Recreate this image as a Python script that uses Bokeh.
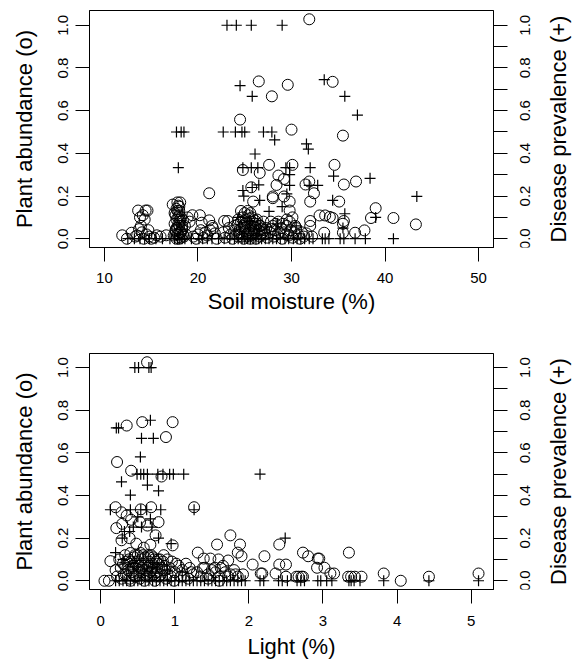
import math
from bokeh.plotting import figure
from bokeh.models import Range1d, LinearAxis, FixedTicker, PrintfTickFormatter
from bokeh.core.properties import value
from bokeh.layouts import column, row
from bokeh.embed import file_html
from bokeh.resources import INLINE

# ---------------- data: top panel (soil moisture) ----------------
soil_abund_x = [
    31.9, 26.5, 29.6, 34.4, 27.9, 24.5, 30.0, 35.5, 27.6, 30.1, 34.6, 24.8, 26.6, 28.6, 29.2,
    36.9, 35.6, 31.9, 31.5, 28.4, 25.7, 21.2, 32.4, 28.0, 29.2, 28.0, 25.9, 29.8, 32.0, 35.1,
    39.0, 29.8, 30.1, 40.9, 38.5, 33.0, 33.6, 34.1, 34.4, 35.6, 35.5, 32.0, 32.0, 43.3, 37.8,
    36.8, 35.5, 33.5, 29.5, 30.5,
    11.9, 12.4, 12.9, 13.3, 13.6, 14.4, 14.6, 13.8, 14.1, 14.3, 13.9, 14.0, 14.5, 13.5, 14.8,
    15.3, 15.6, 16.0, 16.6, 14.2, 15.0, 13.7, 14.7,
    17.3, 17.8, 18.1, 17.9, 18.0, 17.6, 18.2, 17.7, 18.4, 17.5, 18.0, 17.8, 18.3, 17.6, 18.1,
    17.9, 17.4, 18.5, 18.2, 17.7, 18.0, 18.7, 18.9, 19.1, 18.6,
    17.5, 17.7, 17.9, 18.1, 18.3, 17.6, 17.8, 18.0, 18.2, 17.9, 18.4, 17.7, 18.1, 17.8, 18.0,
    19.4, 20.2, 20.4, 21.2, 21.5, 21.3, 20.8, 20.0, 19.5, 20.6, 21.0, 21.8, 22.0, 21.6, 20.3, 19.8,
    22.8, 23.2, 22.7, 23.5, 23.9, 24.3, 24.6, 24.8, 25.0, 25.3, 25.5, 25.8, 26.1, 26.4, 26.7,
    27.0, 27.3, 24.0, 24.4, 24.7, 25.1, 25.4, 25.7, 26.0, 26.3, 26.6, 26.9, 27.2, 23.7, 24.9,
    25.6, 26.2, 27.4, 24.2, 25.9, 25.2, 26.8, 24.5, 23.3, 22.9,
    24.1, 24.4, 24.7, 25.0, 25.2, 25.5, 25.7, 26.0, 26.2, 26.5, 26.8, 25.1, 25.4, 25.8, 26.1,
    24.6, 24.9, 25.3, 25.6, 25.9, 26.3, 26.6, 24.3, 27.1, 25.0,
    27.7, 28.0, 28.3, 28.6, 28.9, 29.2, 29.5, 29.9, 30.3, 30.7, 31.1, 31.6, 28.1, 28.5, 29.0,
    29.7, 30.1, 30.9, 32.2, 27.9,
    28.2, 28.7, 29.1, 29.4, 29.8, 30.4, 31.3, 27.8,
]
soil_abund_y = [
    1.028, 0.737, 0.721, 0.735, 0.667, 0.558, 0.511, 0.483, 0.346, 0.346, 0.346, 0.322, 0.308, 0.296, 0.280,
    0.268, 0.254, 0.268, 0.254, 0.252, 0.241, 0.213, 0.213, 0.198, 0.198, 0.190, 0.174, 0.174, 0.174, 0.174,
    0.143, 0.132, 0.100, 0.097, 0.097, 0.109, 0.109, 0.102, 0.097, 0.083, 0.070, 0.083, 0.060, 0.067, 0.039,
    0.028, 0.028, 0.028, 0.090, 0.050,
    0.016, 0.000, 0.028, 0.010, 0.132, 0.132, 0.132, 0.100, 0.110, 0.090, 0.060, 0.030, 0.020, 0.015, 0.010,
    0.005, 0.016, 0.010, 0.016, 0.000, 0.000, 0.045, 0.040,
    0.160, 0.170, 0.170, 0.155, 0.130, 0.110, 0.100, 0.090, 0.085, 0.070, 0.060, 0.050, 0.045, 0.035, 0.030,
    0.020, 0.015, 0.010, 0.005, 0.000, 0.000, 0.020, 0.100, 0.080, 0.060,
    0.120, 0.140, 0.100, 0.080, 0.060, 0.040, 0.020, 0.110, 0.030, 0.070, 0.020, 0.050, 0.090, 0.130, 0.150,
    0.110, 0.110, 0.075, 0.086, 0.060, 0.040, 0.030, 0.020, 0.010, 0.005, 0.015, 0.025, 0.000, 0.050, 0.040, 0.000,
    0.083, 0.083, 0.030, 0.020, 0.060, 0.090, 0.130, 0.100, 0.120, 0.130, 0.095, 0.080, 0.085, 0.070, 0.060,
    0.080, 0.050, 0.040, 0.020, 0.010, 0.050, 0.030, 0.015, 0.040, 0.020, 0.010, 0.030, 0.020, 0.000, 0.000,
    0.000, 0.000, 0.005, 0.065, 0.060, 0.075, 0.045, 0.045, 0.050, 0.005,
    0.020, 0.030, 0.050, 0.070, 0.020, 0.040, 0.060, 0.030, 0.050, 0.040, 0.020, 0.090, 0.110, 0.100, 0.070,
    0.080, 0.060, 0.010, 0.120, 0.020, 0.090, 0.060, 0.010, 0.040, 0.035,
    0.030, 0.060, 0.070, 0.080, 0.050, 0.030, 0.060, 0.040, 0.030, 0.020, 0.030, 0.025, 0.010, 0.020, 0.000,
    0.015, 0.005, 0.000, 0.010, 0.045,
    0.040, 0.030, 0.070, 0.020, 0.080, 0.060, 0.010, 0.080,
]
soil_prev_x = [
    23.1, 24.1, 25.7, 29.0, 24.5, 25.8, 33.5, 35.7, 37.05,
    17.7, 18.2, 18.5, 22.7, 24.0, 24.7, 25.0, 27.0, 27.9,
    28.2, 31.6, 31.8, 26.1,
    17.9, 24.8, 25.7, 26.4, 29.4, 29.8, 32.0,
    34.5, 38.4, 29.8, 26.5, 29.8, 32.8, 31.9, 25.8,
    24.8, 24.9, 29.5, 43.4, 26.6, 34.4, 29.0,
    27.6, 35.7, 39.0, 24.3, 25.5, 28.5, 30.5, 35.5,
    12.5, 13.2, 13.8, 14.3, 14.8, 15.5, 16.2, 17.0, 17.5, 17.8, 18.0, 18.3, 18.6, 19.3,
    20.1, 20.5, 21.0, 21.5, 22.2, 22.8, 23.4, 23.9, 24.3, 24.7, 25.0, 25.3, 25.6, 25.9,
    26.2, 26.5, 26.8, 27.2, 27.6, 28.0, 28.4, 28.8, 29.3, 29.7, 30.2, 30.6, 31.0, 31.4,
    31.9, 32.3, 33.3, 33.6, 34.0, 35.2, 35.6, 36.8, 37.9, 40.9,
]
soil_prev_y = [
    1.0, 1.0, 1.0, 1.0, 0.717, 0.667, 0.745, 0.667, 0.579,
    0.5, 0.5, 0.5, 0.5, 0.5, 0.5, 0.5, 0.5, 0.5,
    0.463, 0.444, 0.42, 0.397,
    0.333, 0.333, 0.333, 0.333, 0.333, 0.333, 0.333,
    0.293, 0.283, 0.3, 0.252, 0.25, 0.25, 0.25, 0.24,
    0.226, 0.2, 0.21, 0.198, 0.18, 0.18, 0.15,
    0.128, 0.117, 0.1, 0.1, 0.08, 0.07, 0.06, 0.05,
    0.0, 0.0, 0.0, 0.0, 0.0, 0.0, 0.0, 0.0, 0.0, 0.0, 0.0, 0.0, 0.0, 0.0,
    0.0, 0.0, 0.0, 0.0, 0.0, 0.0, 0.0, 0.0, 0.0, 0.0, 0.0, 0.0, 0.0, 0.0,
    0.0, 0.0, 0.0, 0.0, 0.0, 0.0, 0.0, 0.0, 0.0, 0.0, 0.0, 0.0, 0.0, 0.0,
    0.0, 0.0, 0.0, 0.0, 0.0, 0.0, 0.0, 0.0, 0.0, 0.0,
]

# ---------------- data: bottom panel (light) ----------------
light_abund_x = [
    0.625, 0.35, 0.56, 0.97, 0.88, 0.22, 0.41, 0.82, 0.20, 0.54, 0.68, 1.26, 0.28, 0.35, 0.41,
    0.53, 0.78, 0.29, 0.21, 0.63, 0.74, 1.75, 0.39, 0.28, 0.48, 0.67, 0.97, 1.57, 1.88, 2.41,
    0.58, 1.31, 1.85, 2.73, 3.35, 1.90, 2.21, 2.80, 2.93, 2.95, 0.13, 1.39, 1.48, 1.59, 1.72,
    2.05, 2.41, 2.50, 2.92, 3.02, 1.40, 1.54, 2.16, 2.18, 2.36, 3.10, 3.15, 3.82, 5.10, 2.50,
    2.64, 2.67, 2.71, 2.73, 3.34, 3.38, 3.43, 3.52, 4.43, 0.05, 0.11, 4.05,
    0.20, 0.25, 0.30, 0.33, 0.36, 0.38, 0.40, 0.42, 0.45, 0.47, 0.50, 0.52, 0.55, 0.57, 0.60,
    0.62, 0.65, 0.68, 0.70, 0.72, 0.75, 0.78, 0.80, 0.83, 0.86, 0.90, 0.93, 0.96, 1.00, 1.05,
    1.10, 1.15, 1.20, 1.25, 0.22, 0.28, 0.34, 0.40, 0.46, 0.53, 0.59, 0.66, 0.73, 0.79, 0.88,
    0.99, 1.08, 1.18, 1.30, 1.35, 1.45, 1.50, 1.60, 1.65, 1.68, 1.75, 1.80, 1.85, 1.92, 1.60,
    1.45, 0.44, 0.50, 0.56, 0.63, 0.69, 0.76, 0.43, 0.60, 0.90, 0.35, 0.65,
    0.31, 0.37, 0.41, 0.48, 0.51, 0.54, 0.58, 0.61, 0.64, 0.67, 0.71, 0.74, 0.77, 0.81, 0.84,
    0.87, 0.39, 0.46, 0.52, 0.57, 0.62, 0.69, 0.75, 0.82, 0.27, 0.33, 0.44, 0.55, 0.66, 0.72,
    1.02, 1.12, 1.22, 1.38, 1.55, 1.72, 1.62, 1.82, 0.95, 0.85,
]
light_abund_y = [
    1.025, 0.728, 0.744, 0.744, 0.674, 0.557, 0.516, 0.489, 0.345, 0.335, 0.345, 0.345, 0.321, 0.306, 0.286,
    0.275, 0.275, 0.267, 0.247, 0.259, 0.213, 0.213, 0.200, 0.190, 0.174, 0.169, 0.166, 0.170, 0.170, 0.170,
    0.155, 0.132, 0.132, 0.132, 0.132, 0.115, 0.115, 0.115, 0.104, 0.104, 0.092, 0.104, 0.104, 0.100, 0.095,
    0.076, 0.076, 0.076, 0.061, 0.061, 0.061, 0.061, 0.034, 0.034, 0.034, 0.034, 0.034, 0.034, 0.034, 0.019,
    0.019, 0.019, 0.019, 0.019, 0.019, 0.019, 0.019, 0.019, 0.019, 0.000, 0.000, 0.000,
    0.050, 0.100, 0.080, 0.120, 0.060, 0.100, 0.130, 0.040, 0.110, 0.080, 0.120, 0.050, 0.100, 0.070, 0.110,
    0.030, 0.090, 0.120, 0.060, 0.100, 0.040, 0.080, 0.100, 0.050, 0.070, 0.030, 0.060, 0.090, 0.040, 0.070,
    0.050, 0.080, 0.060, 0.030, 0.020, 0.010, 0.030, 0.000, 0.020, 0.010, 0.000, 0.020, 0.000, 0.020, 0.010,
    0.000, 0.020, 0.010, 0.040, 0.020, 0.030, 0.050, 0.020, 0.070, 0.040, 0.030, 0.050, 0.020, 0.030, 0.000,
    0.010, 0.060, 0.090, 0.040, 0.060, 0.080, 0.060, 0.070, 0.080, 0.100, 0.090, 0.110,
    0.030, 0.050, 0.090, 0.020, 0.070, 0.130, 0.030, 0.050, 0.120, 0.040, 0.110, 0.020, 0.100, 0.030, 0.090,
    0.050, 0.010, 0.120, 0.040, 0.120, 0.020, 0.050, 0.090, 0.060, 0.060, 0.070, 0.030, 0.060, 0.070, 0.030,
    0.080, 0.020, 0.040, 0.060, 0.040, 0.020, 0.060, 0.030, 0.020, 0.120,
]
light_prev_x = [
    0.46, 0.51, 0.65, 0.68, 0.21, 0.24, 0.67, 0.55, 0.71, 0.535,
    0.49, 0.54, 0.58, 0.63, 0.77, 0.84, 0.93, 0.98, 1.12, 2.15,
    0.28, 0.63, 0.78, 0.40, 0.13, 0.40, 0.54, 0.81, 1.26, 0.62,
    0.67, 0.44, 0.55, 0.69, 0.32, 0.39, 0.78, 2.49, 0.95, 0.20, 0.29, 0.50,
    0.30, 0.45, 0.70, 0.90, 1.10,
    0.20, 0.25, 0.30, 0.35, 0.40, 0.45, 0.50, 0.55, 0.60, 0.65, 0.70, 0.75, 0.80, 0.85,
    0.90, 0.95, 1.00, 1.05, 1.10, 1.15, 1.20, 1.25, 1.30, 1.35, 1.40, 1.45, 1.50, 1.55,
    1.60, 1.65, 1.70, 1.75, 1.80, 1.85, 1.90, 1.95, 2.15, 2.20, 2.40, 2.45, 2.52, 2.65,
    2.70, 2.75, 2.93, 2.97, 3.05, 3.12, 3.35, 3.38, 3.42, 3.50, 3.82, 4.43, 5.10,
]
light_prev_y = [
    1.0, 1.0, 1.0, 1.0, 0.717, 0.717, 0.753, 0.668, 0.668, 0.581,
    0.5, 0.5, 0.5, 0.5, 0.5, 0.5, 0.5, 0.5, 0.5, 0.5,
    0.464, 0.449, 0.422, 0.402, 0.333, 0.333, 0.333, 0.333, 0.333, 0.333,
    0.29, 0.252, 0.252, 0.252, 0.231, 0.231, 0.2, 0.2, 0.174, 0.132, 0.2, 0.3,
    0.1, 0.08, 0.06, 0.05, 0.04,
    0.0, 0.0, 0.0, 0.0, 0.0, 0.0, 0.0, 0.0, 0.0, 0.0, 0.0, 0.0, 0.0, 0.0,
    0.0, 0.0, 0.0, 0.0, 0.0, 0.0, 0.0, 0.0, 0.0, 0.0, 0.0, 0.0, 0.0, 0.0,
    0.0, 0.0, 0.0, 0.0, 0.0, 0.0, 0.0, 0.0, 0.0, 0.0, 0.0, 0.0, 0.0, 0.0,
    0.0, 0.0, 0.0, 0.0, 0.0, 0.0, 0.0, 0.0, 0.0, 0.0, 0.0, 0.0, 0.0,
]

soil_xticks = [10, 20, 30, 40, 50]
soil_xlim = [10, 50]
light_xticks = [0, 1, 2, 3, 4, 5]
y_left_ticks = [0.0, 0.2, 0.4, 0.6, 0.8, 1.0]
y_right_ticks = [0.0, 0.1, 0.2, 0.3, 0.4, 0.5, 0.6, 0.7, 0.8, 0.9, 1.0]
y_right_labels = ["0.0", "0.2", "0.4", "0.6", "0.8", "1.0"]
y_right_label_pos = [0.0, 0.2, 0.4, 0.6, 0.8, 1.0]

FONT = "Liberation Sans"
TICK = 14
MAIN_W = 517      # main plot width (frame right edge at 493)
SIDE_W = 60       # strip on the right holding the rotated right-axis texts


def r_range(lo, hi):
    pad = 0.04 * (hi - lo)
    return Range1d(lo - pad, hi + pad)


def style_axis(ax, tick_size="15px", label_size="22px"):
    ax.axis_line_color = "black"
    ax.axis_line_width = 1
    ax.major_tick_line_color = "black"
    ax.major_tick_in = 0
    ax.major_tick_out = TICK
    ax.minor_tick_line_color = None
    ax.major_label_text_font = FONT
    ax.major_label_text_font_size = tick_size
    ax.major_label_text_color = "black"
    ax.major_label_text_line_height = 1.0
    ax.axis_label_text_font = FONT
    ax.axis_label_text_font_size = label_size
    ax.axis_label_text_font_style = "normal"
    ax.axis_label_text_color = "black"
    ax.axis_label_text_line_height = 1.0


def panel(cx, cy, px, py, xr, xticks, xlabel, height, btop, bbottom, s1, s2):
    all_y = cy + py
    yr = r_range(min(all_y), max(all_y))
    p = figure(width=MAIN_W, height=height, output_backend="svg", toolbar_location=None,
               x_range=xr, y_range=yr,
               min_border_left=89, min_border_right=MAIN_W - 493, min_border_top=btop,
               min_border_bottom=bbottom)
    p.xgrid.visible = False
    p.ygrid.visible = False
    p.outline_line_color = "black"
    p.outline_line_width = 1
    p.background_fill_color = "white"
    p.border_fill_color = "white"

    p.scatter(cx, cy, marker="circle", size=11, fill_color=None,
              line_color="black", line_width=1)
    p.scatter(px, py, marker="cross", size=11,
              line_color="black", line_width=1.2)

    xa = p.xaxis[0]
    xa.ticker = FixedTicker(ticks=xticks)
    xa.axis_label = xlabel
    xa.major_label_standoff = s1
    xa.axis_label_standoff = s2
    style_axis(xa)

    ya = p.yaxis[0]
    ya.ticker = FixedTicker(ticks=y_left_ticks)
    ya.formatter = PrintfTickFormatter(format="%.1f")
    ya.axis_label = "Plant abundance (o)"
    ya.major_label_orientation = "parallel"
    ya.major_label_standoff = 7
    ya.axis_label_standoff = 19
    style_axis(ya)

    # right axis: tick marks only (texts drawn in the side strip)
    ra = LinearAxis(ticker=FixedTicker(ticks=y_right_ticks))
    ra.major_label_overrides = {t: "" for t in y_right_ticks}
    style_axis(ra)
    ra.major_label_text_font_size = "1px"
    ra.major_label_standoff = 0
    p.add_layout(ra, "right")

    # side strip: x in page pixels, y shares the panel's range
    s = figure(width=SIDE_W, height=height, output_backend="svg", toolbar_location=None,
               x_range=Range1d(MAIN_W, MAIN_W + SIDE_W), y_range=yr,
               x_axis_type=None, y_axis_type=None,
               min_border_left=0, min_border_right=0, min_border_top=btop,
               min_border_bottom=bbottom)
    s.xgrid.visible = False
    s.ygrid.visible = False
    s.outline_line_color = None
    s.border_fill_color = "white"
    s.text(x=524, y=y_right_label_pos, text=y_right_labels, angle=math.pi / 2,
           text_align="center", text_baseline="alphabetic",
           text_font=value(FONT), text_font_size="15px", text_color="black")
    s.text(x=558, y=[(yr.start + yr.end) / 2], text=["Disease prevalence (+)"],
           angle=math.pi / 2, text_align="center", text_baseline="alphabetic",
           text_font=value(FONT), text_font_size="22px", text_color="black")
    return row(p, s, spacing=0)


r1 = panel(soil_abund_x, soil_abund_y, soil_prev_x, soil_prev_y,
           r_range(soil_xlim[0], soil_xlim[1]), soil_xticks, "Soil moisture (%)",
           330, 10, 83, 11, 3)
light_all_x = light_abund_x + light_prev_x
r2 = panel(light_abund_x, light_abund_y, light_prev_x, light_prev_y,
           r_range(min(light_all_x), max(light_all_x)), light_xticks, "Light (%)",
           331, 23, 72, 12, 5)

layout = column(r1, r2, spacing=0)
open("out.html", "w").write(file_html(layout, INLINE))
